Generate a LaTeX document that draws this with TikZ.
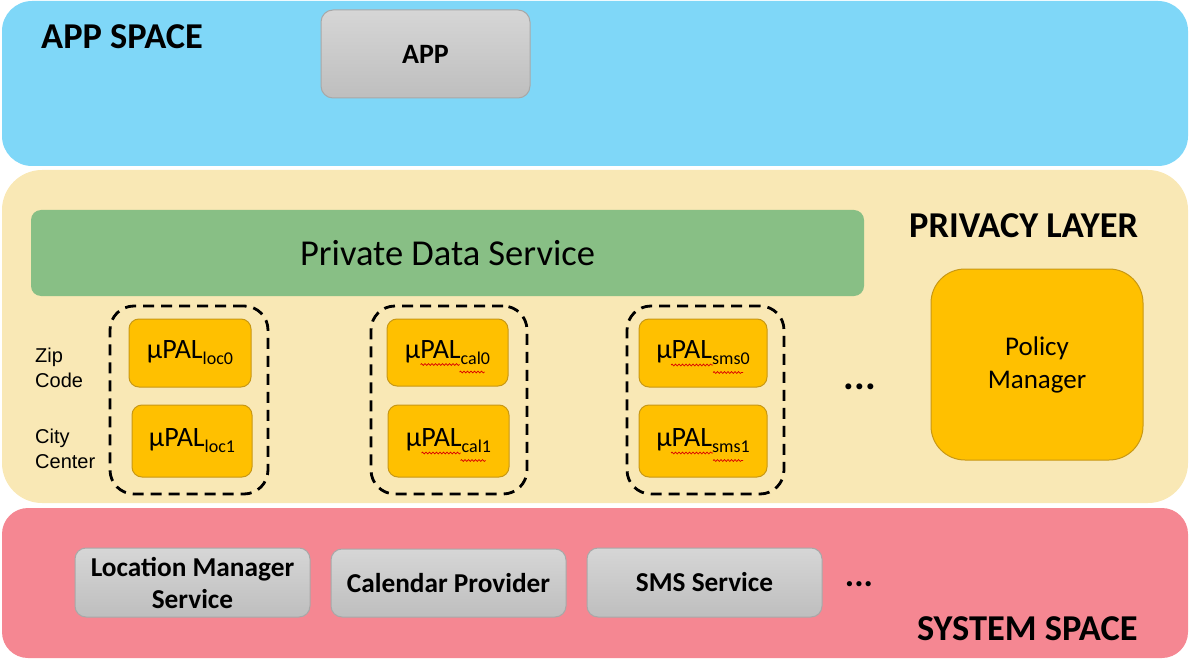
\documentclass[tikz,border=0pt]{standalone}
\usepackage{fontspec}
\setmainfont{Carlito}
\newfontfamily\arialfont{Liberation Sans}
\usepackage{tikz}
\usetikzlibrary{calc,decorations.pathmorphing}

\definecolor{appblue}{RGB}{127,215,248}
\definecolor{privyellow}{RGB}{249,232,181}
\definecolor{syspink}{RGB}{245,135,146}
\definecolor{pdsgreen}{RGB}{136,191,133}
\definecolor{palorange}{RGB}{255,192,0}
\definecolor{palborder}{RGB}{200,152,20}
\definecolor{grayborder}{RGB}{168,168,168}
\definecolor{graytop}{RGB}{214,214,214}
\definecolor{graybot}{RGB}{190,190,190}

\newcommand{\fsize}[1]{\fontsize{#1}{#1}\selectfont}
\newcommand{\palsub}[1]{\raisebox{-6pt}{\fsize{18}#1}}

\tikzset{
	band/.style={inner sep=0pt, minimum width=1186pt},
	graybox/.style={draw=grayborder, line width=1pt, rounded corners=11pt, top color=graytop, bottom color=graybot, font=\bfseries\fontsize{27.3}{32}\selectfont, align=center, inner sep=0pt},
	palbox/.style={draw=palborder, fill=palorange, line width=1pt, rounded corners=10pt, font=\fsize{28}, inner sep=0pt},
	palgroup/.style={draw, line width=2.8pt, dash pattern=on 11pt off 7pt, rounded corners=24pt, inner sep=0pt, minimum height=188pt},
	spacelabel/.style={font=\bfseries\fsize{36.4}, anchor=base west, inner sep=0pt},
	sidenote/.style={font=\arialfont\fontsize{20}{25}\selectfont, align=left, anchor=west, inner sep=0pt},
	moredots/.style={font=\bfseries, anchor=base, inner sep=0pt},
	squiggle/.style={draw=red!85!black, line width=0.7pt, decorate, decoration={snake, amplitude=0.9pt, segment length=3.5pt}}
}

\begin{document}
\begin{tikzpicture}[x=1pt, y=-1pt]
		\useasboundingbox (0, 0) rectangle (1190, 660);

		% The three layers
		\node[band, fill=appblue, rounded corners=30pt, minimum height=165pt] (appspace) at (595, 83.5) {};
		\node[band, fill=privyellow, rounded corners=40pt, minimum height=333pt] (privlayer) at (595, 336.5) {};
		\node[band, fill=syspink, rounded corners=26pt, minimum height=150pt] (sysspace) at (595, 583) {};

		\node[spacelabel] (applabel) at (41, 49) {APP SPACE};
		\node[spacelabel] (privlabel) at (909, 237) {PRIVACY LAYER};
		\node[spacelabel] (syslabel) at (917, 640) {SYSTEM SPACE};

		% App space
		\node[graybox, font=\bfseries\fsize{28}, rounded corners=12pt, minimum width=209pt, minimum height=88pt] (app) at (425.5, 54) {APP};

		% Privacy layer
		\node[draw=none, fill=pdsgreen, rounded corners=10pt, inner sep=0pt, minimum width=833pt, minimum height=86pt, font=\fsize{36.5}] (pds) at (447.5, 253) {Private Data Service};

		\node[palgroup, minimum width=158pt] (locgroup) at (189, 400) {};
		\node[palgroup, minimum width=156pt] (calgroup) at (449, 400) {};
		\node[palgroup, minimum width=157pt] (smsgroup) at (705.5, 400) {};

		\node[palbox, minimum width=122pt, minimum height=68pt] (loc0) at (190, 353) {µPAL\palsub{loc0}};
		\node[palbox, minimum width=120pt, minimum height=72pt] (loc1) at (192, 441) {µPAL\palsub{loc1}};
		\node[palbox, minimum width=121pt, minimum height=67pt] (cal0) at (447.5, 352.5) {µPAL\palsub{cal0}};
		\node[palbox, minimum width=121pt, minimum height=72pt] (cal1) at (448.5, 441) {µPAL\palsub{cal1}};
		\node[palbox, minimum width=128pt, minimum height=68pt] (sms0) at (703, 353) {µPAL\palsub{sms0}};
		\node[palbox, minimum width=128pt, minimum height=72pt] (sms1) at (703, 441) {µPAL\palsub{sms1}};

		% spell check marks
		\foreach \n/\a/\m/\b in {cal0/-27/12/37, cal1/-27/12/37, sms0/-32/10/40, sms1/-32/10/40} {
			\draw[squiggle] ($(\n)+(\a, 12)$) -- ($(\n)+(\m, 12)$);
			\draw[squiggle] ($(\n)+(\m, 19.5)$) -- ($(\n)+(\b, 19.5)$);
		}

		\node[sidenote] (zip) at (35, 367.5) {Zip\\Code};
		\node[sidenote] (city) at (35, 449) {City\\Center};

		\node[moredots, font=\bfseries\fsize{40}] (privdots) at (860, 389) {...};

		\node[palbox, font=\fontsize{27}{33}\selectfont, align=center, rounded corners=34pt, minimum width=212pt, minimum height=191pt] (policy) at (1037, 364.5) {Policy\\Manager};

		% System space
		\node[graybox, minimum width=235pt, minimum height=69pt] (locmgr) at (192.5, 582.5) {Location Manager\\Service};
		\node[graybox, minimum width=235pt, minimum height=68pt] (calprov) at (448.5, 583) {Calendar Provider};
		\node[graybox, minimum width=235pt, minimum height=69pt] (smssvc) at (704.5, 582.5) {SMS Service};

		\node[moredots, font=\bfseries\fsize{35}] (sysdots) at (859, 586) {...};
	\end{tikzpicture}
\end{document}
